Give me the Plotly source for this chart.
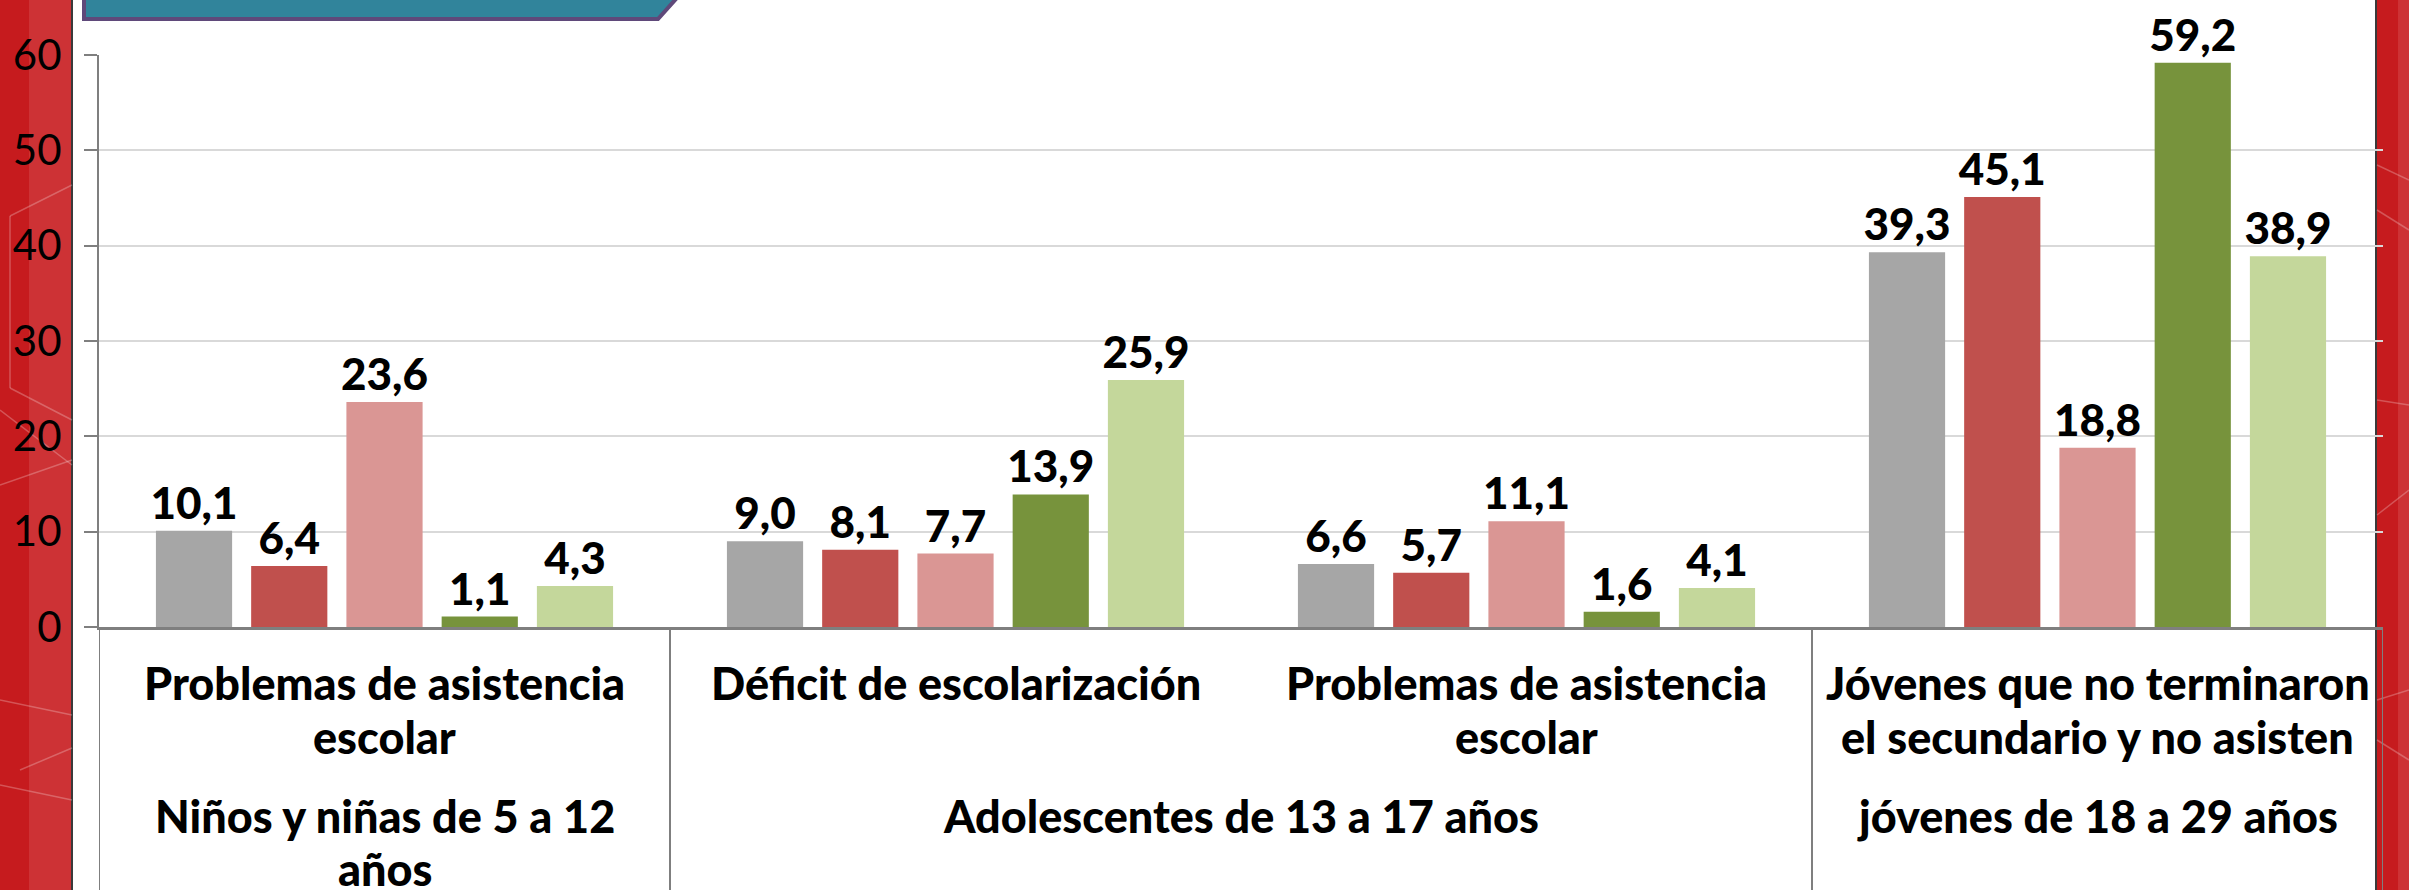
import plotly.graph_objects as go

# ---- data ----
inner_labels = [
    "Problemas de asistencia<br>escolar",
    "Déficit de escolarización",
    "Problemas de asistencia<br>escolar",
    "Jóvenes que no terminaron<br>el secundario y no asisten",
]
outer_labels = ["Niños y niñas de 5 a 12<br>años", "Adolescentes de 13 a 17 años", "jóvenes de 18 a 29 años"]
outer_spans = [(0, 0), (1, 2), (3, 3)]

serie_1 = [10.1, 9.0, 6.6, 39.3]
serie_2 = [6.4, 8.1, 5.7, 45.1]
serie_3 = [23.6, 7.7, 11.1, 18.8]
serie_4 = [1.1, 13.9, 1.6, 59.2]
serie_5 = [4.3, 25.9, 4.1, 38.9]
series = [serie_1, serie_2, serie_3, serie_4, serie_5]
colors = ["#A6A6A6", "#C0504D", "#DA9694", "#77933C", "#C4D79B"]

y_ticks = [0, 10, 20, 30, 40, 50, 60]

FONT = "Lato"
W, H = 2409, 890
L, R, T, B = 99, 2383, 55, 627
PW, PH = R - L, B - T


def px(x):
    return (x - L) / PW


def py(y):
    return (B - y) / PH


xs = list(range(len(inner_labels)))
fig = go.Figure()
for vals, col in zip(series, colors):
    fig.add_trace(go.Bar(
        x=xs, y=vals, marker=dict(color=col, line=dict(width=0)),
        text=[f"{v:.1f}".replace(".", ",") for v in vals],
        textposition="outside", cliponaxis=False, constraintext="none",
        textfont=dict(family=FONT, size=44, color="black", weight=900),
        showlegend=False, hoverinfo="skip",
    ))

shapes = []
# red side bands
shapes += [
    dict(type="rect", xref="paper", yref="paper", x0=px(0), x1=px(29), y0=py(890), y1=py(0),
         fillcolor="#C61B1E", line=dict(width=0), layer="below"),
    dict(type="rect", xref="paper", yref="paper", x0=px(29), x1=px(72), y0=py(890), y1=py(0),
         fillcolor="#CD3235", line=dict(width=0), layer="below"),
    dict(type="rect", xref="paper", yref="paper", x0=px(2377), x1=px(2398), y0=py(890), y1=py(0),
         fillcolor="#C61B1E", line=dict(width=0), layer="below"),
    dict(type="rect", xref="paper", yref="paper", x0=px(2398), x1=px(2409), y0=py(890), y1=py(0),
         fillcolor="#CD3235", line=dict(width=0), layer="below"),
    dict(type="line", xref="paper", yref="paper", x0=px(72), x1=px(72), y0=py(890), y1=py(0),
         line=dict(color="#3A3A3A", width=2), layer="below"),
    dict(type="line", xref="paper", yref="paper", x0=px(2376), x1=px(2376), y0=py(890), y1=py(0),
         line=dict(color="#3A3A3A", width=2), layer="below"),
]
# faint decorative lines on the red bands
deco = [((10, 216), (72, 185)), ((10, 216), (10, 388)), ((10, 388), (72, 420)),
        ((0, 410), (72, 465)), ((0, 485), (72, 460)), ((0, 700), (72, 715)),
        ((0, 785), (72, 800)), ((20, 770), (72, 748)),
        ((2377, 165), (2409, 180)), ((2377, 210), (2409, 230)), ((2377, 400), (2409, 405)),
        ((2377, 515), (2409, 490)), ((2377, 700), (2409, 690)), ((2377, 740), (2409, 760))]
for (x0, y0), (x1, y1) in deco:
    shapes.append(dict(type="line", xref="paper", yref="paper", x0=px(x0), x1=px(x1), y0=py(y0), y1=py(y1),
                       line=dict(color="rgba(255,255,255,0.25)", width=1.5), layer="below"))
# teal banner at top-left
shapes.append(dict(type="path", xref="paper", yref="paper",
                   path=f"M {px(84)},{py(-10)} L {px(84)},{py(19)} L {px(658)},{py(19)} L {px(684)},{py(-10)} Z",
                   fillcolor="#31849B", line=dict(color="#5F497A", width=4), layer="below"))
# category dividers
bottom = py(890)
for xb in [-0.5, 0.5, 2.5, len(xs) - 0.5]:
    shapes.append(dict(type="line", xref="x", yref="paper", x0=xb, x1=xb, y0=0, y1=bottom,
                       line=dict(color="#7F7F7F", width=2)))

LABEL_FONT = dict(family=FONT, size=45, color="black", weight=900)
inner_line_y = [683, 737]
outer_line_y = [816, 869]
annotations = []
for i, lab in enumerate(inner_labels):
    for line, yy in zip(lab.split("<br>"), inner_line_y):
        annotations.append(dict(x=i, xref="x", y=py(yy), yref="paper", text=line, showarrow=False,
                                yanchor="middle", xanchor="center", font=LABEL_FONT))
for lab, (a, b) in zip(outer_labels, outer_spans):
    for line, yy in zip(lab.split("<br>"), outer_line_y):
        annotations.append(dict(x=(a + b) / 2, xref="x", y=py(yy), yref="paper", text=line, showarrow=False,
                                yanchor="middle", xanchor="center", font=LABEL_FONT))

fig.update_layout(
    width=W, height=H,
    margin=dict(l=L, r=W - R, t=T, b=H - B, autoexpand=False),
    paper_bgcolor="white", plot_bgcolor="rgba(0,0,0,0)",
    barmode="group", bargap=0.166, bargroupgap=0.2,
    shapes=shapes, annotations=annotations,
    xaxis=dict(range=[-0.5, len(xs) - 0.5], showticklabels=False, ticks="", showgrid=False,
               zeroline=False, showline=True, linecolor="#7F7F7F", linewidth=3),
    yaxis=dict(range=[0, 60], tickvals=y_ticks, showgrid=True, gridcolor="#D9D9D9", gridwidth=2,
               zeroline=False, showline=True, linecolor="#7F7F7F", linewidth=2,
               ticks="outside", ticklen=13, tickwidth=2, tickcolor="#7F7F7F",
               ticklabelstandoff=14,
               tickfont=dict(family=FONT, size=42, color="black")),
    font=dict(family=FONT),
)

fig.write_html("out.html", config={"displayModeBar": False},
               post_script="document.body.style.margin='0px';document.body.style.overflow='hidden';")
